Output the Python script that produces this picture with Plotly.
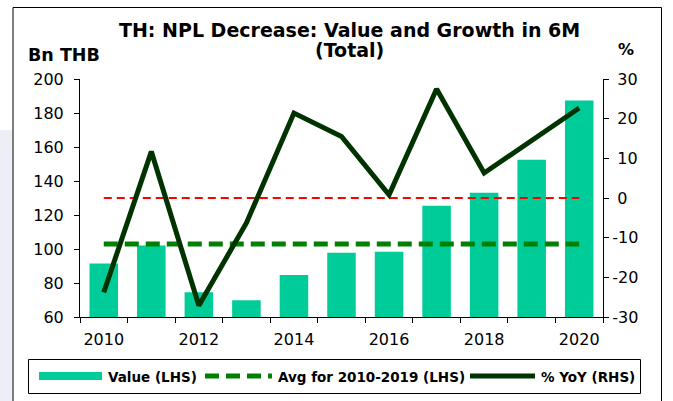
import plotly.graph_objects as go

# ---- data ----
years = [2010, 2011, 2012, 2013, 2014, 2015, 2016, 2017, 2018, 2019, 2020]
value_bn_thb = [91.4, 102.1, 74.5, 69.8, 84.7, 97.8, 98.4, 125.5, 133.1, 152.5, 187.4]
yoy_pct = [-23.8, 11.7, -27.1, -6.3, 21.4, 15.5, 0.8, 27.5, 6.3, 14.5, 22.7]
avg_2010_2019 = [103.0] * len(years)
zero_ref = [0] * len(years)
x_tick_labels = [2010, 2012, 2014, 2016, 2018, 2020]
left_ticks = [60, 80, 100, 120, 140, 160, 180, 200]
right_ticks = [-30, -20, -10, 0, 10, 20, 30]
legend_names = ["Value (LHS)", "Avg for 2010-2019 (LHS)", "% YoY (RHS)"]

W, H = 673, 401
ML, MR, MT, MB = 80, 70, 79, 84
PW, PH = W - ML - MR, H - MT - MB


def px(xp):
    return (xp - ML) / PW


def py(yp):
    return (H - MB - yp) / PH


FONT = "DejaVu Sans"
BAR_C = "#00CC99"
LINE_C = "#003300"
AVG_C = "#008000"
RED_C = "#FF0000"

fig = go.Figure()
fig.add_trace(go.Bar(x=years, y=value_bn_thb, marker=dict(color=BAR_C, line=dict(width=0)),
                     width=0.6, name=legend_names[0], yaxis="y"))
fig.add_trace(go.Scatter(x=years, y=zero_ref, mode="lines", yaxis="y2", name="zero",
                         line=dict(color=RED_C, width=2, dash="8px,5px")))
fig.add_trace(go.Scatter(x=years, y=avg_2010_2019, mode="lines", name=legend_names[1],
                         line=dict(color=AVG_C, width=5, dash="14px,7px")))
fig.add_trace(go.Scatter(x=years, y=yoy_pct, mode="lines", name=legend_names[2], yaxis="y2",
                         line=dict(color=LINE_C, width=5)))

right_text = [("-" + str(abs(v))) if v < 0 else (" " + str(v)) for v in right_ticks]

fig.update_layout(
    width=W, height=H,
    margin=dict(l=ML, r=MR, t=MT, b=MB, pad=0, autoexpand=False),
    paper_bgcolor="white", plot_bgcolor="white",
    font=dict(family=FONT, size=16, color="black"),
    showlegend=False,
    xaxis=dict(range=[2009.5, 2020.5], tickvals=x_tick_labels, ticks="", showgrid=False,
               zeroline=False, showline=True, linecolor="black", linewidth=1,
               tickfont=dict(size=16), ticklabelstandoff=8,
               minor=dict(tickvals=[y - 0.5 for y in years] + [years[-1] + 0.5],
                          ticks="outside", ticklen=5, tickcolor="black", tickwidth=1)),
    yaxis=dict(range=[60, 200], tickvals=left_ticks, ticks="outside", ticklen=5,
               tickcolor="black", showgrid=False, zeroline=False, showline=True,
               linecolor="black", linewidth=1, tickfont=dict(size=16), ticklabelstandoff=7),
    yaxis2=dict(range=[-30, 30], tickvals=right_ticks, ticktext=right_text, overlaying="y",
                side="right", ticks="outside", ticklen=5, tickcolor="black", showgrid=False,
                zeroline=False, showline=True, linecolor="black", linewidth=1,
                tickfont=dict(size=16)),
)

# frame and background bits
fig.add_shape(type="rect", xref="paper", yref="paper", x0=px(0), x1=px(12.5), y0=py(401), y1=py(130),
              fillcolor="#EEEEF7", line=dict(width=0), layer="below")
fig.add_shape(type="rect", xref="paper", yref="paper", x0=px(13), x1=px(661.5), y0=py(405), y1=py(7.5),
              fillcolor="rgba(0,0,0,0)", line=dict(color="black", width=1))

# manual legend
fig.add_shape(type="rect", xref="paper", yref="paper", x0=px(28.5), x1=px(640.5), y0=py(393.5), y1=py(359.5),
              fillcolor="white", line=dict(color="black", width=1))
fig.add_shape(type="rect", xref="paper", yref="paper", x0=px(39), x1=px(102), y0=py(380), y1=py(372),
              fillcolor=BAR_C, line=dict(width=0))
fig.add_shape(type="line", xref="paper", yref="paper", x0=px(205), x1=px(272), y0=py(376), y1=py(376),
              line=dict(color=AVG_C, width=5, dash="14px,7px"))
fig.add_shape(type="line", xref="paper", yref="paper", x0=px(470), x1=px(535), y0=py(376), y1=py(376),
              line=dict(color=LINE_C, width=5))
for name, x0 in zip(legend_names, [107, 277, 540]):
    fig.add_annotation(text="<b>" + name + "</b>", xref="paper", yref="paper", x=px(x0), y=py(376.5),
                       xanchor="left", yanchor="middle", showarrow=False,
                       font=dict(size=13.5, family=FONT), borderpad=0)

# titles
fig.add_annotation(text="<b>TH: NPL Decrease: Value and Growth in 6M</b>", xref="paper", yref="paper",
                   x=px(349), y=py(42.5), xanchor="center", yanchor="bottom", showarrow=False,
                   font=dict(size=19, family=FONT))
fig.add_annotation(text="<b>(Total)</b>", xref="paper", yref="paper",
                   x=px(349), y=py(63), xanchor="center", yanchor="bottom", showarrow=False,
                   font=dict(size=19, family=FONT))
fig.add_annotation(text="<b>Bn THB</b>", xref="paper", yref="paper",
                   x=px(26), y=py(67.5), xanchor="left", yanchor="bottom", showarrow=False,
                   font=dict(size=17.5, family=FONT))
fig.add_annotation(text="<b>%</b>", xref="paper", yref="paper",
                   x=px(626), y=py(60.5), xanchor="center", yanchor="bottom", showarrow=False,
                   font=dict(size=16, family=FONT))

fig.write_html("out.html", config={"displayModeBar": False},
               post_script="document.body.style.margin='0';")
